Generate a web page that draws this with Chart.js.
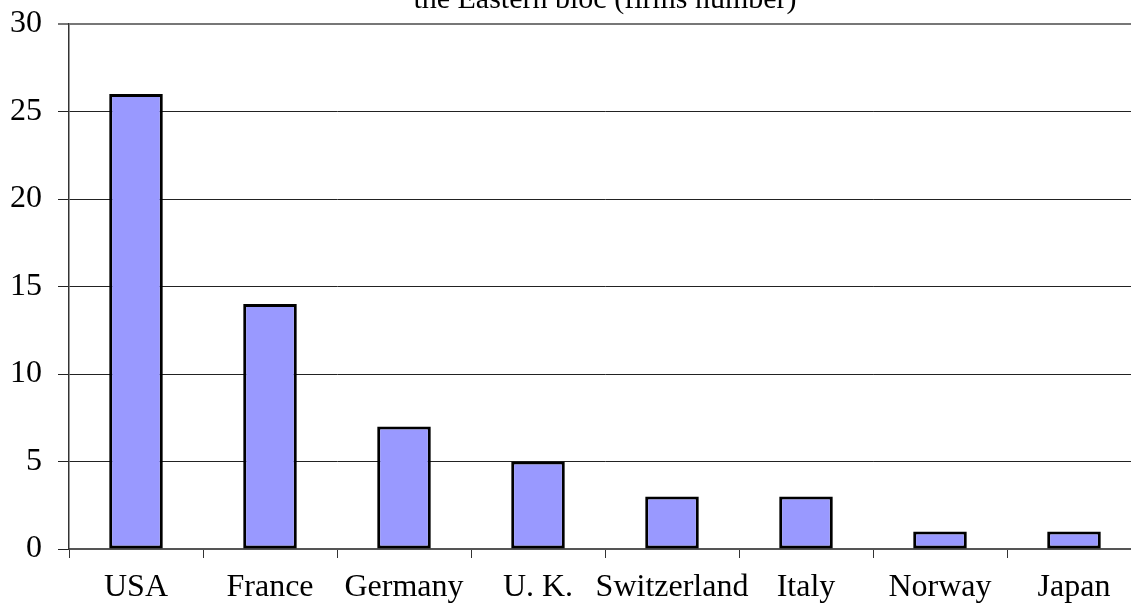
<!DOCTYPE html>
<html>
<head>
<meta charset="utf-8">
<script src="https://cdn.jsdelivr.net/npm/chart.js@4/dist/chart.umd.min.js"></script>
<style>
  html, body { margin: 0; padding: 0; background: #fff; overflow: hidden; }
  canvas { display: block; }
</style>
</head>
<body>
<canvas id="chartCanvas" width="1141" height="603"></canvas>
<script>
const countries = ["USA", "France", "Germany", "U. K.", "Switzerland", "Italy", "Norway", "Japan"];
const firms = [26, 14, 7, 5, 3, 3, 1, 1];
const titleLine = "the Eastern bloc (firms number)";

const serif = "'Liberation Serif', 'Times New Roman', serif";

// only the bottom of the title's last line is visible in the picture
const cutTitle = {
  id: "cutTitle",
  afterDraw(chart) {
    const ctx = chart.ctx;
    const area = chart.chartArea;
    ctx.save();
    ctx.font = "30px " + serif;
    ctx.fillStyle = "#000";
    ctx.textAlign = "center";
    ctx.textBaseline = "alphabetic";
    ctx.fillText(titleLine, (area.left + area.right) / 2, 8);
    ctx.restore();
  }
};

const ctx = document.getElementById("chartCanvas").getContext("2d");
const chart = new Chart(ctx, {
  type: "bar",
  data: {
    labels: countries,
    datasets: [{
      data: firms,
      backgroundColor: "#9999FF",
      borderColor: "#000",
      borderWidth: 3,
      borderSkipped: false,
      categoryPercentage: 1,
      barPercentage: 0.4
    }]
  },
  options: {
    responsive: false,
    animation: false,
    layout: { padding: { top: 24, left: 0, right: 0, bottom: 0 } },
    plugins: { legend: { display: false }, tooltip: { enabled: false } },
    scales: {
      x: {
        offset: true,
        grid: { offset: true, drawOnChartArea: false, color: "#333", tickLength: 9 },
        border: { color: "#555", width: 2 },
        ticks: { color: "#000", font: { family: serif, size: 32 }, padding: 10, maxRotation: 0, autoSkip: false },
        afterFit(scale) { scale.height = 54; }
      },
      y: {
        min: 0,
        max: 30,
        ticks: { stepSize: 5, color: "#000", font: { family: serif, size: 32 }, padding: 16 },
        grid: {
          color: (c) => c.tick && c.tick.value === 30 ? "#777" : "#222",
          lineWidth: (c) => c.tick && c.tick.value === 30 ? 2 : 1,
          tickLength: 11
        },
        border: { color: "#333", width: 1.5 },
        afterFit(scale) {
          scale.width = 69;
          scale.paddingTop = 0;
          scale.paddingBottom = 0;
        }
      }
    }
  },
  plugins: [cutTitle]
});
</script>
</body>
</html>
